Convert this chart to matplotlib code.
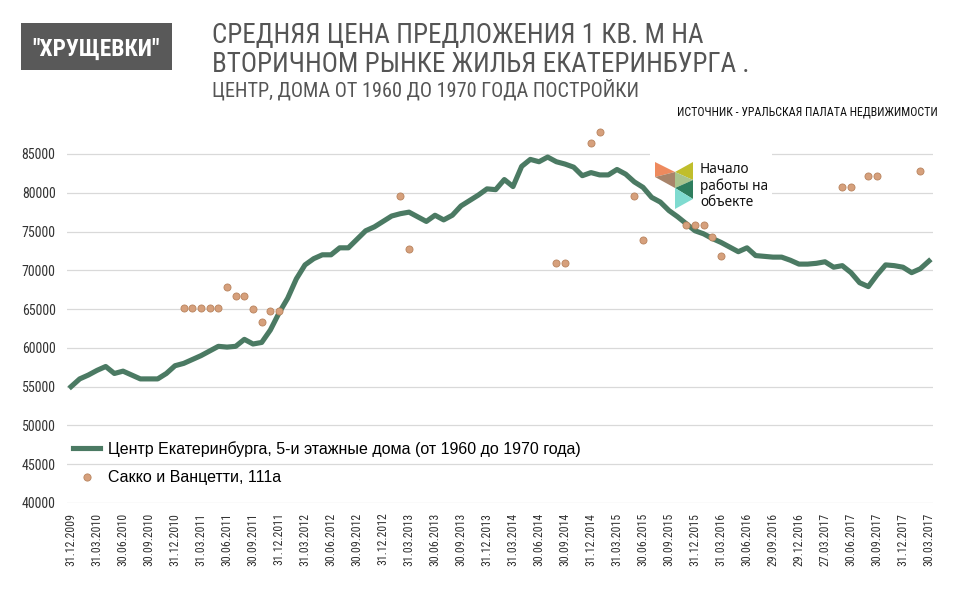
import numpy as np
import matplotlib
matplotlib.use("Agg")
import matplotlib.pyplot as plt
from matplotlib import font_manager
from matplotlib.patches import Rectangle, Polygon
from matplotlib.lines import Line2D

# Подписи оси X (каждая третья точка)
date_labels = [
    "31.12.2009", "31.03.2010", "30.06.2010", "30.09.2010", "31.12.2010",
    "31.03.2011", "30.06.2011", "30.09.2011", "31.12.2011", "31.03.2012",
    "30.06.2012", "30.09.2012", "31.12.2012", "31.03.2013", "30.06.2013",
    "30.09.2013", "31.12.2013", "31.03.2014", "30.06.2014", "30.09.2014",
    "31.12.2014", "31.03.2015", "30.06.2015", "30.09.2015", "31.12.2015",
    "31.03.2016", "30.06.2016", "29.09.2016", "29.12.2016", "27.03.2017",
    "30.06.2017", "30.09.2017", "31.12.2017", "30.03.2017",
]

# Центр Екатеринбурга, помесячно
center_price = [
    55000, 56000, 56500, 57100, 57600, 56700, 57000, 56500, 56000, 56000,
    56000, 56700, 57700, 58000, 58500, 59000, 59600, 60200, 60100, 60200,
    61100, 60500, 60700, 62300, 64500, 66400, 68900, 70700, 71500, 72000,
    72000, 72900, 72900, 74000, 75100, 75600, 76300, 77000, 77300, 77500,
    76900, 76300, 77100, 76500, 77100, 78300, 79000, 79700, 80500, 80400,
    81700, 80800, 83400, 84300, 84000, 84600, 84000, 83700, 83300, 82200,
    82600, 82300, 82300, 83000, 82400, 81400, 80700, 79400, 78800, 77700,
    76900, 76000, 75100, 74700, 74100, 73600, 73000, 72400, 72900, 71900,
    71800, 71700, 71700, 71300, 70800, 70800, 70900, 71100, 70400, 70600,
    69700, 68400, 67900, 69400, 70700, 70600, 70400, 69700, 70200, 71200,
]

# Сакко и Ванцетти, 111а (пропуски = нет предложения)
sacco_price = [None] * 13 + [
    65100, 65100, 65100, 65100, 65100, 67800, 66700, 66700, 65000, 63300,
    64800, 64800,
] + [None] * 13 + [79600, 72700] + [None] * 16 + [70900, 70900, None, None,
    86400, 87800, None, None, None, 79600, 73900, None, None, None, None,
    75800, 75800, 75800, 74300, 71800,
] + [None] * 13 + [80700, 80700, None, 82100, 82100, None, None, None, None,
    82800, None]

W, H = 954, 598
fig = plt.figure(figsize=(W / 100, H / 100), dpi=100)

available = {f.name for f in font_manager.fontManager.ttflist}
narrow = next((n for n in ["Roboto Condensed", "Liberation Sans Narrow",
                           "DejaVu Sans Condensed", "Open Sans Condensed"]
               if n in available), "DejaVu Sans")
plt.rcParams["font.family"] = [narrow, "DejaVu Sans"]


def fx(px):
    return px / W


def fy(py):
    return 1 - py / H


# оси: 40000 -> y=503, 88000 -> y=130.7; точки 0..99 -> x 71..929
ax = fig.add_axes([fx(66.7), fy(503), (933.3 - 66.7) / W, (503 - 130.7) / H])

x = np.arange(len(center_price))
sacco = np.array([np.nan if v is None else v for v in sacco_price], dtype=float)

ax.plot(x, center_price, color="#4B7A63", lw=3.7, solid_joinstyle="round",
        zorder=3)
ax.scatter(x, sacco, s=26, color="#D6A07C", edgecolor="#B8845E", linewidth=0.6,
           zorder=4, clip_on=False)

ax.set_xlim(-0.5, len(center_price) - 0.5)
ax.set_ylim(40000, 88000)
ax.set_yticks(np.arange(40000, 85001, 5000))
ax.set_xticks(x[::3])
ax.set_xticklabels(date_labels, rotation=90, fontsize=8.6, color="#333333")
ax.tick_params(axis="y", labelsize=10, colors="#333333", length=0, pad=8)
ax.tick_params(axis="x", length=0, pad=7)
ax.grid(axis="y", color="#D9D9D9", lw=0.9)
ax.set_axisbelow(True)
for s in ax.spines.values():
    s.set_visible(False)

# белая подложка под логотипом
ax.add_patch(Rectangle((fx(650), fy(216)), (772 - 650) / W, (216 - 150) / H,
                       transform=fig.transFigure, facecolor="white",
                       edgecolor="none", zorder=1, clip_on=False))

leg_handles = [
    Line2D([], [], color="#4B7A63", lw=3.7),
    Line2D([], [], ls="", marker="o", markersize=5.2, markerfacecolor="#D6A07C",
           markeredgecolor="#B8845E", markeredgewidth=0.6),
]
ax.legend(leg_handles,
          ["Центр Екатеринбурга, 5-и этажные дома (от 1960 до 1970 года)",
           "Сакко и Ванцетти, 111а"],
          loc="upper left", bbox_to_anchor=(fx(73), fy(441)),
          bbox_transform=fig.transFigure, frameon=False, borderpad=0,
          borderaxespad=0, handlelength=1.7, handletextpad=0.5,
          labelspacing=0.85, prop={"family": "Liberation Sans", "size": 11.5})

# логотип
logo = [
    ([(655, 162), (675, 172), (655, 177)], "#EE8A5E"),
    ([(655, 177), (675, 172), (675, 188)], "#A8846A"),
    ([(675, 172), (693, 162), (693, 180)], "#C0BE2C"),
    ([(675, 172), (693, 180), (675, 188)], "#A9C48C"),
    ([(675, 188), (693, 180), (693, 199)], "#2E7E5E"),
    ([(675, 188), (693, 199), (675, 209)], "#7FDBD0"),
]
for pts, col in logo:
    fig.patches.append(Polygon([(fx(a), fy(b)) for a, b in pts], closed=True,
                               transform=fig.transFigure, facecolor=col,
                               edgecolor="none", zorder=5))
fig.text(fx(700), fy(186), "Начало\nработы на\nобъекте", ha="left", va="center",
         fontsize=9.8, family="Noto Sans", color="#111111", linespacing=1.15)

# заголовки
fig.patches.append(Rectangle((fx(21), fy(70)), (172 - 21) / W, (70 - 23) / H,
                             transform=fig.transFigure, facecolor="#595959",
                             edgecolor="none"))
box_title = fig.text(fx(96.5), fy(56), "\"ХРУЩЕВКИ\"", ha="center",
                     va="baseline", color="white", fontsize=16, fontweight="bold")
title1 = fig.text(fx(212), fy(43), "СРЕДНЯЯ ЦЕНА ПРЕДЛОЖЕНИЯ 1 КВ. М НА",
                  ha="left", va="baseline", color="#555555", fontsize=20)
title2 = fig.text(fx(212), fy(72), "ВТОРИЧНОМ РЫНКЕ ЖИЛЬЯ ЕКАТЕРИНБУРГА .",
                  ha="left", va="baseline", color="#555555", fontsize=20)
subtitle = fig.text(fx(212), fy(96), "ЦЕНТР, ДОМА ОТ 1960 ДО 1970 ГОДА ПОСТРОЙКИ",
                    ha="left", va="baseline", color="#555555", fontsize=14)
source = fig.text(fx(938), fy(116), "ИСТОЧНИК - УРАЛЬСКАЯ ПАЛАТА НЕДВИЖИМОСТИ",
                  ha="right", va="baseline", color="#111111", fontsize=8)

# подгоняем ширину строк под оригинал
fig.canvas.draw()
renderer = fig.canvas.get_renderer()


def scale_to(t, target):
    w = t.get_window_extent(renderer).width
    return t.get_fontsize() * target / w


size_title = scale_to(title2, 536)
title1.set_fontsize(size_title)
title2.set_fontsize(size_title)
for t, target in [(box_title, 127), (subtitle, 431), (source, 260)]:
    t.set_fontsize(scale_to(t, target))

fig.savefig("out.png", dpi=100)
